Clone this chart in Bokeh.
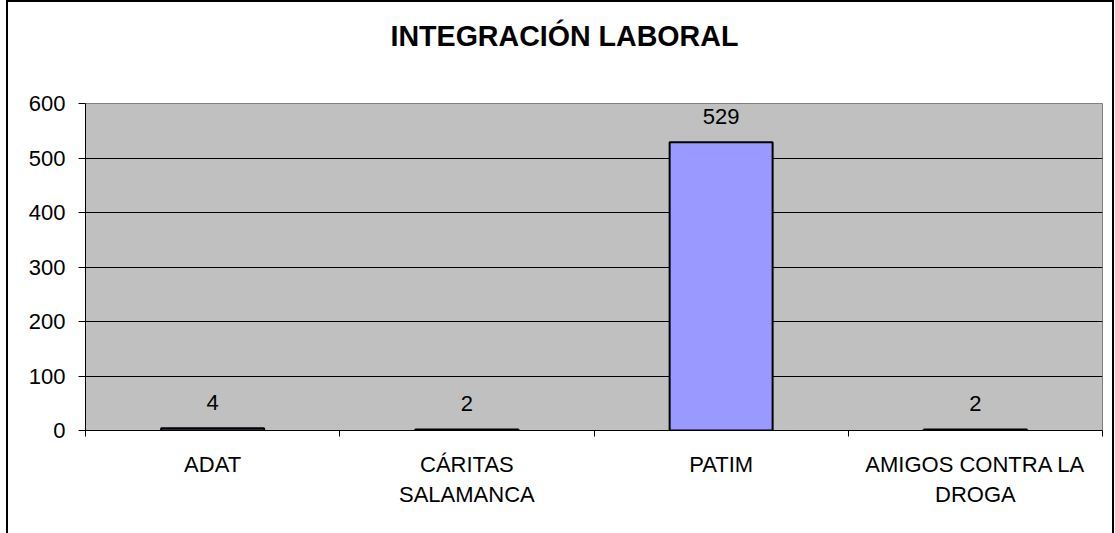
from bokeh.plotting import figure
from bokeh.models import FixedTicker, Range1d, ColumnDataSource, LabelSet, Title
from bokeh.core.properties import value
from bokeh.embed import file_html
from bokeh.resources import INLINE

categories = ["ADAT", "CÁRITAS\nSALAMANCA", "PATIM", "AMIGOS CONTRA LA\nDROGA"]
values = [4, 2, 529, 2]
y_ticks = [0, 100, 200, 300, 400, 500, 600]
title_text = "INTEGRACIÓN LABORAL"

FONT = "Liberation Sans"
n = len(categories)
xs = [i + 0.5 for i in range(n)]

src = ColumnDataSource(dict(x=xs, top=values, lab=[str(v) for v in values]))

p = figure(width=1104, height=531, output_backend="svg", toolbar_location=None,
           x_range=Range1d(0, n), y_range=Range1d(y_ticks[0], y_ticks[-1]),
           min_border_left=77, min_border_right=10, min_border_top=101,
           min_border_bottom=103)
p.styles = {"outline": "2px solid black", "margin-left": "8px", "margin-top": "2px"}
p.background_fill_color = "#C0C0C0"
p.border_fill_color = "white"
p.outline_line_color = "#808080"
p.outline_line_width = 1

# spacer between the frame and the title (closest to frame), then the title
spacer = Title(text=" ", text_font_size="1px", standoff=49)
p.add_layout(spacer, "above")
main_title = Title(text=title_text, align="left", offset=305, standoff=0,
                   text_font=FONT, text_font_size="28.6px",
                   text_font_style="bold", text_color="black")
p.add_layout(main_title, "above")

p.vbar(x="x", top="top", width=0.405, bottom=0, source=src,
       fill_color="#9999FF", line_color="black", line_width=2)

labels = LabelSet(x="x", y="top", text="lab", source=src, y_offset=26,
                  text_align="center", text_baseline="middle",
                  text_font=value(FONT), text_font_size="22px", text_color="black")
p.add_layout(labels)

# x axis: category names at centres, tick marks at category boundaries
xa = p.xaxis[0]
xa.ticker = FixedTicker(ticks=xs, minor_ticks=list(range(n + 1)))
xa.major_label_overrides = {x: c for x, c in zip(xs, categories)}
xa.major_tick_out = 0
xa.major_tick_in = 0
xa.minor_tick_out = 6
xa.minor_tick_in = 0
xa.minor_tick_line_color = "black"
xa.axis_line_color = "black"
xa.major_label_standoff = 15
xa.major_label_text_font = FONT
xa.major_label_text_font_size = "22px"
xa.major_label_text_color = "black"
xa.major_label_text_line_height = 1.22

ya = p.yaxis[0]
ya.ticker = FixedTicker(ticks=y_ticks)
ya.major_tick_out = 7
ya.major_tick_in = 0
ya.minor_tick_out = 0
ya.minor_tick_in = 0
ya.major_tick_line_color = "black"
ya.axis_line_color = "black"
ya.major_label_standoff = 13
ya.major_label_text_font = FONT
ya.major_label_text_font_size = "22px"
ya.major_label_text_color = "black"

p.xgrid.grid_line_color = None
p.ygrid.ticker = FixedTicker(ticks=y_ticks[1:-1])
p.ygrid.grid_line_color = "black"
p.ygrid.grid_line_width = 1

open("out.html", "w").write(file_html(p, INLINE))
